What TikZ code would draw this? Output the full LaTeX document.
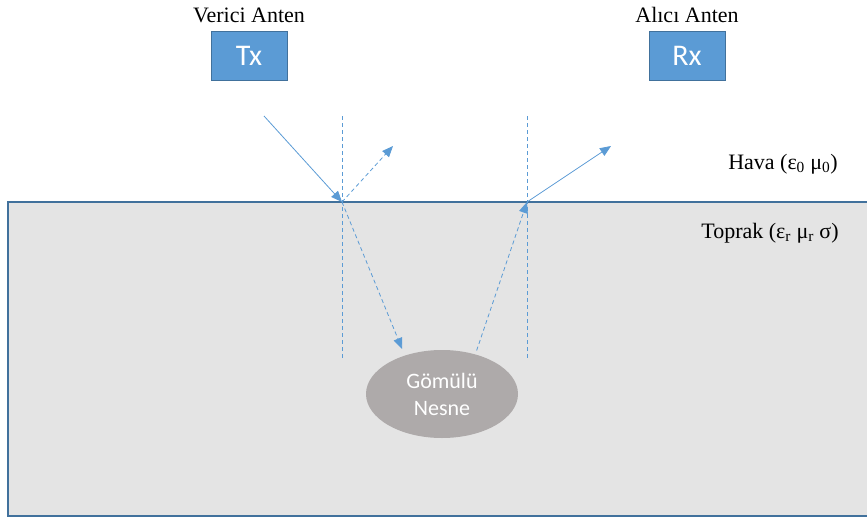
\documentclass[tikz,border=0pt]{standalone}
\usepackage{fontspec}
\setmainfont{Liberation Serif}
\newfontfamily\calibri{Carlito}
\usetikzlibrary{arrows.meta,shapes.geometric}
\definecolor{antblue}{HTML}{5B9BD5}
\definecolor{antedge}{HTML}{41719C}
\definecolor{soil}{HTML}{E4E4E4}
\definecolor{obj}{HTML}{AEAAAA}
\tikzset{anten/.style={fill=antblue,draw=antedge,line width=1pt,minimum width=76pt,minimum height=49pt,text=white,font=\calibri\fontsize{30}{34}\selectfont}}
\tikzset{lbl/.style={font=\fontsize{22}{26}\selectfont,inner sep=0}}
\tikzset{ray/.style={draw=antblue,line width=0.8pt,-{Triangle[length=11pt,width=9pt]}}}
\tikzset{normal/.style={draw=antblue,line width=0.8pt,dash pattern=on 4pt off 3pt}}

\begin{document}
\begin{tikzpicture}[x=1pt,y=-1pt]
      \useasboundingbox (0,0) rectangle (867,519);

      %toprak
      \fill[soil] (8,202) rectangle (867,516);
      \draw[antedge,line width=2pt] (867,202) -- (8,202) -- (8,516) -- (867,516);

      %antenler
      \node[anten] (tx) at (249,56) {Tx};
      \node[lbl] (txl) at (249,15) {Verici Anten};
      \node[anten] (rx) at (687,56) {Rx};
      \node[lbl] (rxl) at (687,15) {Alıcı Anten};

      %ortamlar
      \node[lbl] (hava) at (783,164) {Hava (ε\textsubscript{0} μ\textsubscript{0})};
      \node[lbl] (toprak) at (770,233) {Toprak (ε\textsubscript{r} μ\textsubscript{r} σ)};

      %gömülü nesne
      \node[fill=obj,ellipse,minimum width=152pt,minimum height=88pt,inner sep=0,align=center,text=white,
            font=\calibri\fontsize{22}{27}\selectfont] (nesne) at (442,394) {Gömülü\\Nesne};

      %normaller
      \coordinate (n1a) at (342,116); \coordinate (n1b) at (342,360);
      \coordinate (n2a) at (527,116); \coordinate (n2b) at (527,360);
      \draw[normal] (n1a) -- (n1b);
      \draw[normal] (n2a) -- (n2b);

      %ışınlar
      \coordinate (ts) at (264,116);
      \coordinate (p1) at (342,202);
      \coordinate (yans) at (393,146);
      \coordinate (p2) at (527,202);
      \coordinate (rs) at (611,146);
      \draw[ray] (ts) -- (p1);
      \draw[ray,dash pattern=on 4pt off 3pt] (p1) -- (yans);
      \draw[ray,dash pattern=on 4pt off 3pt,shorten >=7pt] (p1) -- (nesne.134);
      \draw[ray,dash pattern=on 4pt off 3pt,shorten <=4pt] (nesne.50) -- (p2);
      \draw[ray] (p2) -- (rs);

    \end{tikzpicture}
\end{document}
